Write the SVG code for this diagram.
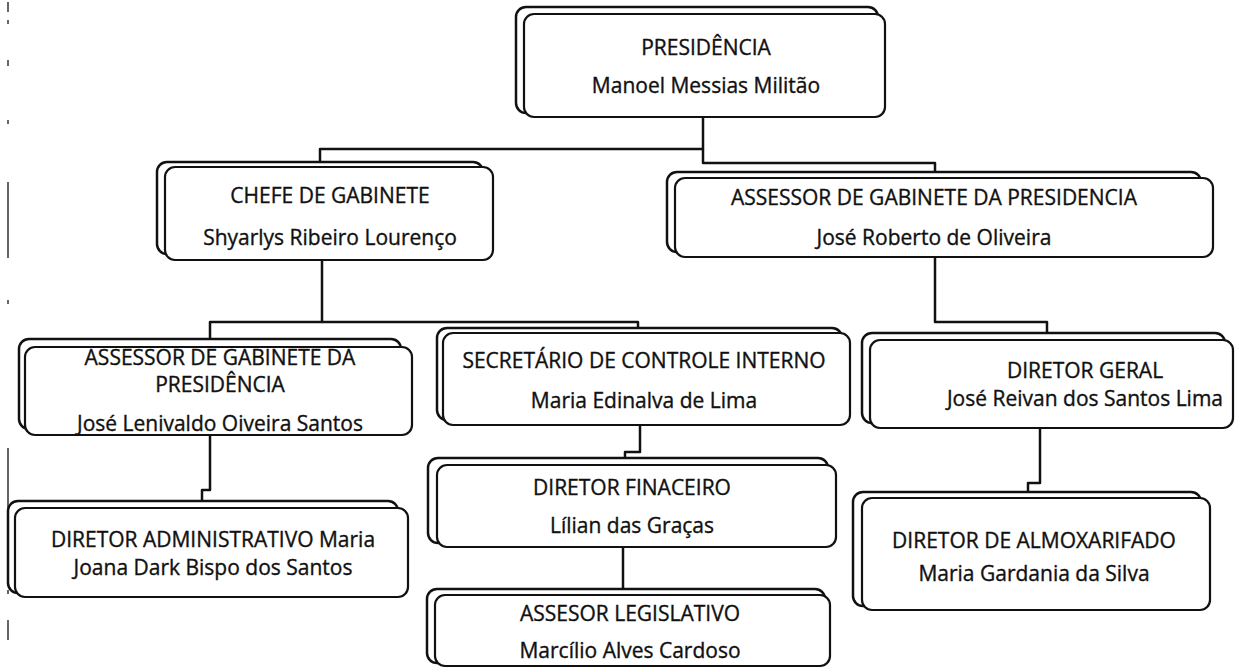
<svg xmlns="http://www.w3.org/2000/svg" width="1236" height="668" viewBox="0 0 1236 668">
<style>
.back{fill:#fff;stroke:#111;stroke-width:2.5}
.front{fill:#fff;stroke:#111;stroke-width:2.2}
.t{font-family:"Open Sans","Noto Sans","Liberation Sans",sans-serif;font-size:21px;fill:#111;stroke:#111;stroke-width:0.35;text-anchor:middle;dominant-baseline:central}
.c{fill:none;stroke:#111;stroke-width:2.5;stroke-linejoin:round}
.scan{fill:none;stroke:#333;stroke-width:1.5}
</style>
<rect width="1236" height="668" fill="#fff"/>
<g id="scan-edge">
<path class="scan" d="M8 2V12 M8 20V24 M8 60V66 M8 120V124 M8 182V258 M8 300V304 M8 448V520 M8 590V594 M8 620V640"/>
</g>
<g id="connectors">
<path class="c" d="M703 117V149H320V162"/>
<path class="c" d="M703 149V163H935V172"/>
<path class="c" d="M322 260V322H210V340"/>
<path class="c" d="M322 322H638V328"/>
<path class="c" d="M935 257V322H1047V334"/>
<path class="c" d="M210 435V490H202V502"/>
<path class="c" d="M640 425V452H625V459"/>
<path class="c" d="M623 547V589"/>
<path class="c" d="M1040 428V483H1028V492"/>
</g>
<g id="presidencia">
<rect class="back" x="516" y="7" width="362" height="106" rx="10"/>
<rect class="front" x="524" y="14" width="361" height="103" rx="10"/>
<text class="t" x="706" y="47">PRESIDÊNCIA</text>
<text class="t" x="706" y="85">Manoel Messias Militão</text>
</g>
<g id="chefe-gabinete">
<rect class="back" x="157" y="162" width="326" height="92" rx="10"/>
<rect class="front" x="165" y="167" width="328" height="93" rx="10"/>
<text class="t" x="330" y="195">CHEFE DE GABINETE</text>
<text class="t" x="330" y="237">Shyarlys Ribeiro Lourenço</text>
</g>
<g id="assessor-presidencia-direita">
<rect class="back" x="667" y="172" width="534" height="80" rx="10"/>
<rect class="front" x="675" y="178" width="538" height="79" rx="10"/>
<text class="t" x="934" y="197">ASSESSOR DE GABINETE DA PRESIDENCIA</text>
<text class="t" x="934" y="237">José Roberto de Oliveira</text>
</g>
<g id="assessor-presidencia-esquerda">
<rect class="back" x="19" y="339" width="382" height="90" rx="10"/>
<rect class="front" x="25" y="347" width="387" height="88" rx="10"/>
<text class="t" x="220" y="357">ASSESSOR DE GABINETE DA</text>
<text class="t" x="220" y="384">PRESIDÊNCIA</text>
<text class="t" x="220" y="423">José Lenivaldo Oiveira Santos</text>
</g>
<g id="secretario-controle">
<rect class="back" x="437" y="328" width="405" height="92" rx="10"/>
<rect class="front" x="443" y="333" width="407" height="92" rx="10"/>
<text class="t" x="644" y="360">SECRETÁRIO DE CONTROLE INTERNO</text>
<text class="t" x="644" y="400">Maria Edinalva de Lima</text>
</g>
<g id="diretor-geral">
<rect class="back" x="862" y="333" width="363" height="90" rx="10"/>
<rect class="front" x="870" y="340" width="363" height="88" rx="10"/>
<text class="t" x="1085" y="370">DIRETOR GERAL</text>
<text class="t" x="1085" y="398">José Reivan dos Santos Lima</text>
</g>
<g id="diretor-administrativo">
<rect class="back" x="8" y="501" width="390" height="92" rx="10"/>
<rect class="front" x="15" y="508" width="393" height="89" rx="10"/>
<text class="t" x="213" y="539">DIRETOR ADMINISTRATIVO  Maria</text>
<text class="t" x="213" y="567">Joana Dark Bispo dos Santos</text>
</g>
<g id="diretor-financeiro">
<rect class="back" x="428" y="458" width="400" height="85" rx="10"/>
<rect class="front" x="437" y="465" width="399" height="82" rx="10"/>
<text class="t" x="632" y="487">DIRETOR FINACEIRO</text>
<text class="t" x="632" y="525">Lílian das Graças</text>
</g>
<g id="assessor-legislativo">
<rect class="back" x="427" y="589" width="398" height="74" rx="10"/>
<rect class="front" x="435" y="595" width="395" height="71" rx="10"/>
<text class="t" x="630" y="613">ASSESOR LEGISLATIVO</text>
<text class="t" x="630" y="650">Marcílio Alves Cardoso</text>
</g>
<g id="diretor-almoxarifado">
<rect class="back" x="853" y="492" width="348" height="114" rx="10"/>
<rect class="front" x="862" y="498" width="348" height="112" rx="10"/>
<text class="t" x="1034" y="540">DIRETOR DE ALMOXARIFADO</text>
<text class="t" x="1034" y="573">Maria Gardania da Silva</text>
</g>
</svg>
